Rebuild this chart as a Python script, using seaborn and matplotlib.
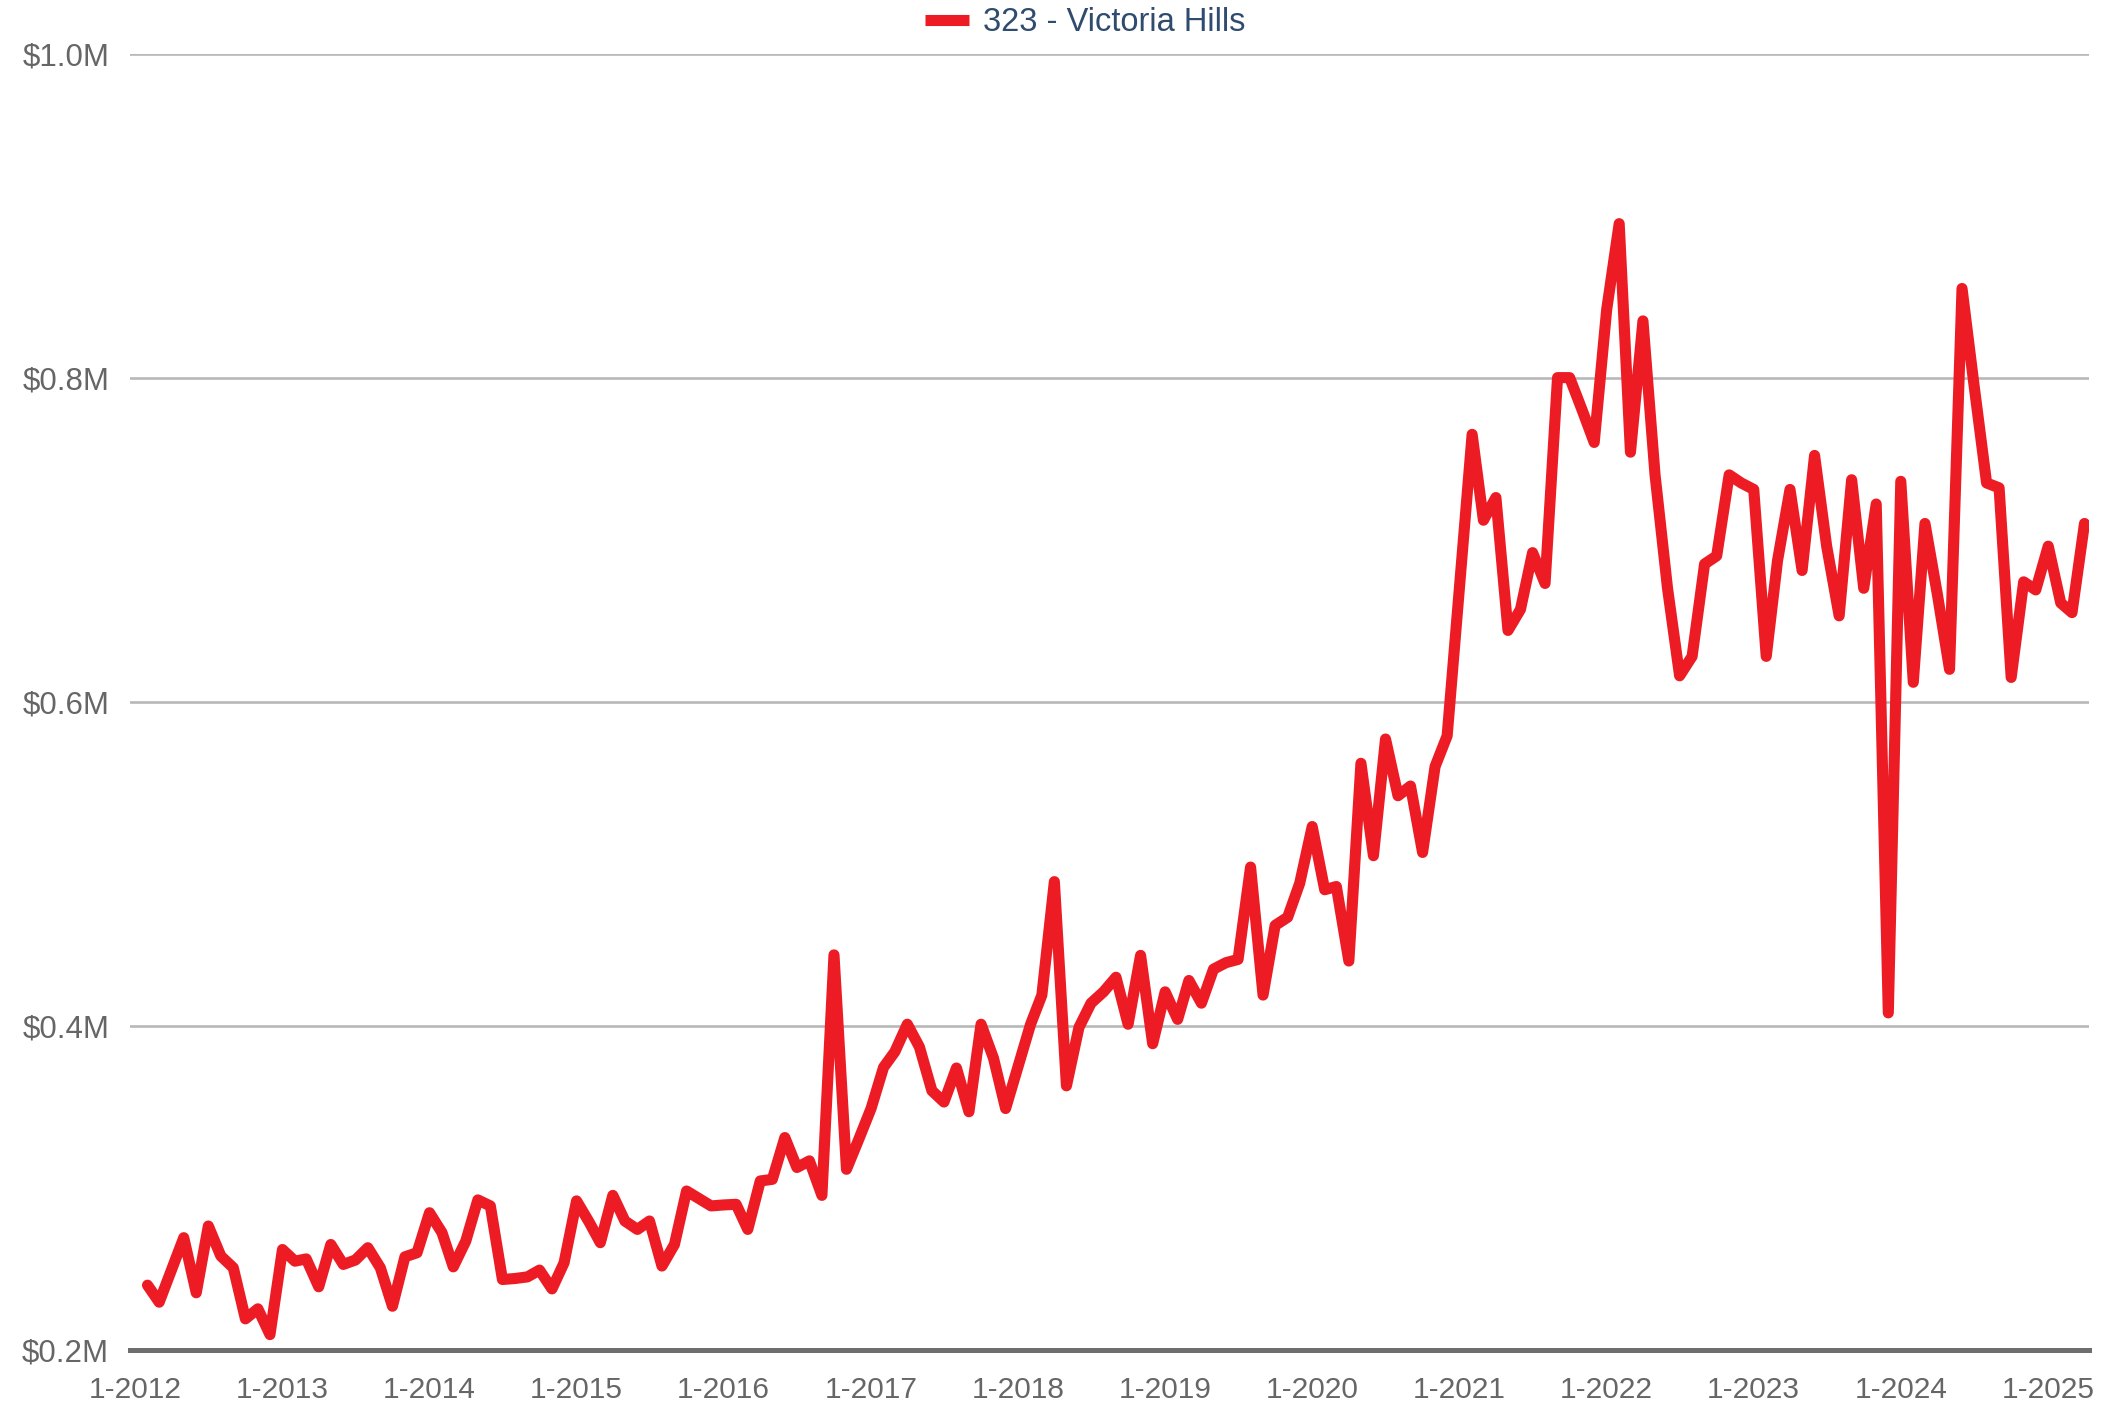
import numpy as np
import pandas as pd
import matplotlib
matplotlib.use("Agg")
import matplotlib.pyplot as plt
from matplotlib.ticker import FuncFormatter
import seaborn as sns

# ---- data (median price, $M), monthly from Feb 2012 to Apr 2025 ----
series_name = "323 - Victoria Hills"
start_month = "2012-02-01"
v2012 = [0.240, 0.2295, 0.2497, 0.2693, 0.2353, 0.2765, 0.258, 0.2507, 0.2192, 0.2254, 0.2095]
v2013 = [0.262, 0.2548, 0.2562, 0.239, 0.2651, 0.2528, 0.2555, 0.2631, 0.2507, 0.227, 0.2575, 0.260]
v2014 = [0.2847, 0.2724, 0.2513, 0.2672, 0.2926, 0.2889, 0.2435, 0.2441, 0.2451, 0.2493, 0.2377, 0.2538]
v2015 = [0.292, 0.279, 0.2662, 0.2954, 0.2796, 0.2744, 0.2796, 0.2518, 0.2651, 0.2981, 0.2934, 0.2889]
v2016 = [0.2895, 0.2899, 0.2744, 0.3043, 0.3053, 0.3311, 0.3126, 0.3167, 0.2954, 0.4438, 0.3115, 0.3297]
v2017 = [0.349, 0.3744, 0.384, 0.401, 0.387, 0.360, 0.353, 0.374, 0.347, 0.401, 0.380, 0.349]
v2018 = [0.375, 0.401, 0.419, 0.489, 0.363, 0.399, 0.414, 0.421, 0.430, 0.401, 0.4435, 0.389]
v2019 = [0.421, 0.404, 0.428, 0.414, 0.435, 0.439, 0.441, 0.498, 0.419, 0.462, 0.467, 0.488]
v2020 = [0.523, 0.484, 0.486, 0.440, 0.562, 0.505, 0.577, 0.542, 0.548, 0.507, 0.560, 0.579]
v2021 = [0.672, 0.765, 0.712, 0.726, 0.644, 0.657, 0.692, 0.673, 0.800, 0.800, 0.780, 0.760]
v2022 = [0.842, 0.895, 0.754, 0.835, 0.740, 0.670, 0.616, 0.628, 0.685, 0.690, 0.740, 0.735]
v2023 = [0.731, 0.628, 0.687, 0.731, 0.681, 0.752, 0.696, 0.653, 0.737, 0.670, 0.722, 0.408]
v2024 = [0.736, 0.612, 0.710, 0.666, 0.620, 0.855, 0.795, 0.735, 0.732, 0.615, 0.674, 0.669]
v2025 = [0.696, 0.661, 0.655, 0.710]

y_ticks = [0.2, 0.4, 0.6, 0.8, 1.0]
x_tick_years = list(range(2012, 2026))

values = v2012 + v2013 + v2014 + v2015 + v2016 + v2017 + v2018 + v2019 + v2020 + v2021 + v2022 + v2023 + v2024 + v2025
dates = pd.date_range(start_month, periods=len(values), freq="MS")
df = pd.DataFrame({"date": dates, "value": values, "series": series_name})

# ---- style ----
sns.set_theme(style="white")
plt.rcParams["font.family"] = ["Liberation Sans", "DejaVu Sans"]

RED = "#ed1c24"
AXIS_GREY = "#6e6e6e"
TEXT_GREY = "#666666"
GRID_GREY = "#b8b8b8"
LEGEND_BLUE = "#2f4b6e"

fig = plt.figure(figsize=(21.03, 14.08), dpi=100)
ax = fig.add_axes([0.0619, 0.0412, 0.9316, 0.9208])

sns.lineplot(data=df, x="date", y="value", hue="series", palette=[RED],
             linewidth=8, ax=ax, legend=True)
for ln in ax.lines:
    ln.set_solid_joinstyle("round")
    ln.set_solid_capstyle("round")

ax.set_ylim(0.2, 1.0)
ax.set_yticks(y_ticks)
ax.yaxis.set_major_formatter(FuncFormatter(lambda v, p: f"${v:.1f}M"))
ax.grid(axis="y", color=GRID_GREY, linewidth=1.9)
ax.grid(axis="x", visible=False)
ax.set_axisbelow(True)

ax.set_xlim(pd.Timestamp("2011-12-20"), pd.Timestamp("2025-04-13"))
ticks = [pd.Timestamp(f"{y}-01-01") for y in x_tick_years]
ax.set_xticks(ticks)
ax.set_xticklabels([f"1-{y}" for y in x_tick_years])

for s in ["top", "right", "left"]:
    ax.spines[s].set_visible(False)
ax.spines["bottom"].set_color(AXIS_GREY)
ax.spines["bottom"].set_linewidth(3.6)

ax.tick_params(axis="x", colors=AXIS_GREY, length=9, width=3.4, direction="out",
               labelsize=21.5, labelcolor=TEXT_GREY, pad=10)
ax.tick_params(axis="y", length=0, labelsize=22.5, labelcolor=TEXT_GREY, pad=15)
ax.set_xlabel("")
ax.set_ylabel("")

handles, labels = ax.get_legend_handles_labels()
ax.get_legend().remove()
leg = fig.legend(handles, labels, loc="center", bbox_to_anchor=(0.516, 0.984),
                 frameon=False, fontsize=23.5, handlelength=1.35, handletextpad=0.45)
for t in leg.get_texts():
    t.set_color(LEGEND_BLUE)
for h in leg.get_lines():
    h.set_linewidth(8)
    h.set_solid_capstyle("butt")

fig.savefig("out.png", dpi=100)
